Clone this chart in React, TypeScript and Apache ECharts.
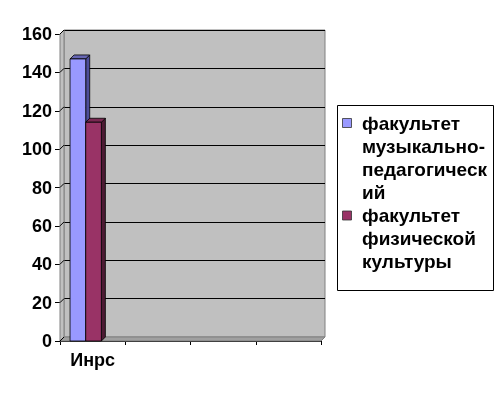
import React, { useEffect, useRef } from "react";
import * as echarts from "echarts";

const categories = ["Инрс", "", "", ""];
const seriesNames = [
  "факультет музыкально-педагогический",
  "факультет физической культуры",
];
const legendLabels = [
  "факультет\nмузыкально-\nпедагогическ\nий",
  "факультет\nфизической\nкультуры",
];
const seriesValues = [
  [147, null, null, null],
  [114, null, null, null],
];
const yTicks = [0, 20, 40, 60, 80, 100, 120, 140, 160];

const frontColors = ["#9999ff", "#993366"];
const darkColors = ["#4d4d99", "#4d1a33"];
const topColors = ["#6666b3", "#7a2952"];
const FONT = "'Liberation Sans', Arial, sans-serif";
const D = 4;

export default function App() {
  const ref = useRef<HTMLDivElement>(null);
  useEffect(() => {
    if (!ref.current) return;
    const chart = echarts.init(ref.current, undefined, { renderer: "svg" });

    const barSeries = seriesValues.map((vals, k) => ({
      type: "custom",
      name: seriesNames[k],
      xAxisIndex: 1,
      yAxisIndex: 1,
      z: 5 + k,
      data: vals
        .map((v, i) => (v == null ? null : [i, v]))
        .filter((d) => d !== null),
      renderItem: (params: any, api: any) => {
        const idx = api.value(0);
        const val = api.value(1);
        const top = api.coord([idx, val]);
        const base = api.coord([idx, 0]);
        const band = api.size([1, 0])[0];
        const w = band * 0.24;
        const x0 = top[0] - band * 0.346 + k * w;
        const yT = top[1];
        const yB = base[1];
        return {
          type: "group",
          children: [
            {
              type: "polygon",
              shape: {
                points: [
                  [x0 + w, yT],
                  [x0 + w + D, yT - D],
                  [x0 + w + D, yB - D],
                  [x0 + w, yB],
                ],
              },
              style: { fill: darkColors[k], stroke: "#000", lineWidth: 0.8 },
            },
            {
              type: "polygon",
              shape: {
                points: [
                  [x0, yT],
                  [x0 + D, yT - D],
                  [x0 + w + D, yT - D],
                  [x0 + w, yT],
                ],
              },
              style: { fill: topColors[k], stroke: "#000", lineWidth: 0.8 },
            },
            {
              type: "rect",
              shape: { x: x0, y: yT, width: w, height: yB - yT },
              style: { fill: frontColors[k], stroke: "#000", lineWidth: 0.8 },
            },
          ],
        };
      },
    }));

    const sideLines = {
      type: "custom",
      xAxisIndex: 1,
      yAxisIndex: 1,
      z: 3,
      silent: true,
      data: yTicks.map((v) => [0, v]),
      renderItem: (params: any, api: any) => {
        const p = api.coord([0, api.value(1)]);
        const x = params.coordSys.x;
        return {
          type: "line",
          shape: { x1: x, y1: p[1], x2: x + D, y2: p[1] - D },
          style: { stroke: "#000", lineWidth: 1 },
        };
      },
    };

    const legendChildren: any[] = [
      {
        type: "rect",
        shape: { x: 337.5, y: 105.5, width: 156, height: 185 },
        style: { fill: "#fff", stroke: "#000", lineWidth: 1 },
      },
    ];
    const itemTops = [111.5, 204];
    legendLabels.forEach((lab, k) => {
      legendChildren.push({
        type: "rect",
        shape: { x: 342.5, y: itemTops[k] + 7, width: 9, height: 9 },
        style: { fill: frontColors[k], stroke: "#333", lineWidth: 0.8 },
      });
      legendChildren.push({
        type: "text",
        x: 362,
        y: itemTops[k],
        style: {
          text: lab,
          font: `bold 19px ${FONT}`,
          fill: "#000",
          lineHeight: 23,
          verticalAlign: "top",
          align: "left",
        },
      });
    });

    chart.setOption({
      animation: false,
      textStyle: { fontFamily: FONT },
      grid: [
        {
          left: 64,
          top: 30,
          right: 179,
          bottom: 60,
          show: true,
          backgroundColor: "#c0c0c0",
          borderColor: "#808080",
          borderWidth: 1,
        },
        { left: 60, top: 34, right: 183, bottom: 56 },
      ],
      xAxis: [
        {
          gridIndex: 0,
          type: "category",
          data: categories,
          show: false,
        },
        {
          gridIndex: 1,
          type: "category",
          data: categories,
          axisLine: { show: true, lineStyle: { color: "#000", width: 1 } },
          axisTick: {
            show: true,
            interval: 0,
            length: 4,
            lineStyle: { color: "#000" },
          },
          axisLabel: {
            interval: 0,
            margin: 10,
            color: "#000",
            fontWeight: "bold",
            fontSize: 18,
            fontFamily: FONT,
          },
          splitLine: { show: false },
        },
      ],
      yAxis: [
        {
          gridIndex: 0,
          type: "value",
          min: 0,
          max: 160,
          interval: 20,
          axisLine: { show: false },
          axisTick: { show: false },
          axisLabel: { show: false },
          splitLine: { show: true, lineStyle: { color: "#000", width: 1 } },
        },
        {
          gridIndex: 1,
          type: "value",
          min: 0,
          max: 160,
          interval: 20,
          axisLine: { show: true, lineStyle: { color: "#000", width: 1 } },
          axisTick: { show: true, length: 5, lineStyle: { color: "#000" } },
          axisLabel: {
            margin: 8,
            color: "#000",
            fontWeight: "bold",
            fontSize: 18,
            fontFamily: FONT,
          },
          splitLine: { show: false },
        },
      ],
      graphic: [
        {
          type: "polygon",
          z: 1,
          shape: {
            points: [
              [60, 341],
              [64, 337],
              [325, 337],
              [321, 341],
            ],
          },
          style: { fill: "#a0a0a0", stroke: "#808080", lineWidth: 1 },
        },
        {
          type: "polygon",
          z: 1,
          shape: {
            points: [
              [60, 341],
              [64, 337],
              [64, 30],
              [60, 34],
            ],
          },
          style: { fill: "#c0c0c0", stroke: "#808080", lineWidth: 1 },
        },
        { type: "group", z: 10, children: legendChildren },
      ],
      series: [sideLines, ...barSeries],
    });
    return () => chart.dispose();
  }, []);
  return (
    <div
      ref={ref}
      style={{ position: "fixed", left: 0, top: 0, width: 504, height: 397 }}
    />
  );
}
